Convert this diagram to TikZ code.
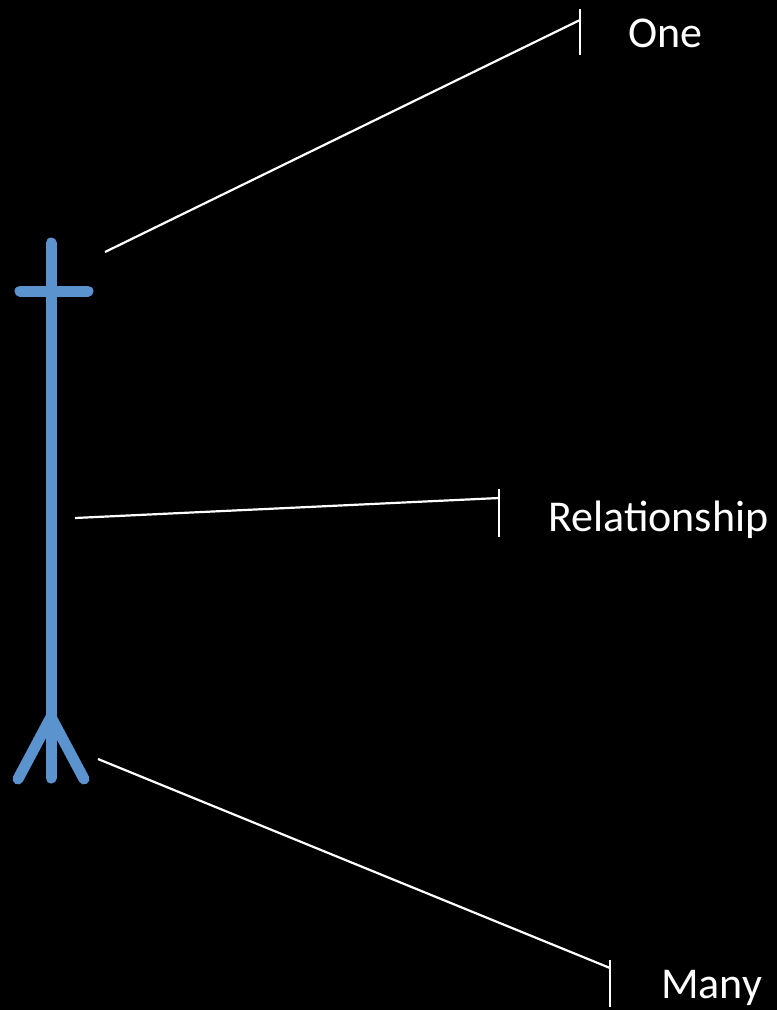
\documentclass[tikz,border=0pt]{standalone}
\usepackage{fontspec}
\setmainfont{Carlito}
\definecolor{relblue}{RGB}{91,147,207}
\begin{document}
\begin{tikzpicture}[x=1pt,y=-1pt,
  bluestroke/.style={draw=relblue,line width=11pt,line cap=round},
  callout/.style={draw=white,line width=2.2pt},
  tickline/.style={draw=white,line width=2pt},
  label/.style={text=white,inner sep=0pt,anchor=base west,font=\fontsize{44}{50}\selectfont}]
\fill[black] (0,0) rectangle (777,1010);
\useasboundingbox (0,0) rectangle (777,1010);
% blue relationship line
\coordinate (top) at (51,243);
\coordinate (bot) at (51,778);
\coordinate (fork) at (51,717);
\coordinate (barL) at (20,291);
\coordinate (barR) at (88,291);
\coordinate (prongL) at (18,779);
\coordinate (prongR) at (84,779);
\draw[bluestroke] (top) -- (bot);
\draw[bluestroke] (barL) -- (barR);
\draw[bluestroke,line join=round] (prongL) -- (fork) -- (prongR);
% callouts
\coordinate (oneS) at (105,252);
\coordinate (oneE) at (580,20);
\coordinate (oneT1) at (580,9);
\coordinate (oneT2) at (580,55);
\coordinate (relS) at (75,518);
\coordinate (relE) at (499,498);
\coordinate (relT1) at (499,489);
\coordinate (relT2) at (499,537);
\coordinate (manyS) at (98,759);
\coordinate (manyE) at (610,968);
\coordinate (manyT1) at (610,960);
\coordinate (manyT2) at (610,1007);
\draw[callout] (oneS) -- (oneE);
\draw[tickline] (oneT1) -- (oneT2);
\draw[callout] (relS) -- (relE);
\draw[tickline] (relT1) -- (relT2);
\draw[callout] (manyS) -- (manyE);
\draw[tickline] (manyT1) -- (manyT2);
\node[label] (one) at (628,47) {One};
\node[label] (rel) at (548,531) {Relationship};
\node[label] (many) at (661,998) {Many};
\end{tikzpicture}
\end{document}
